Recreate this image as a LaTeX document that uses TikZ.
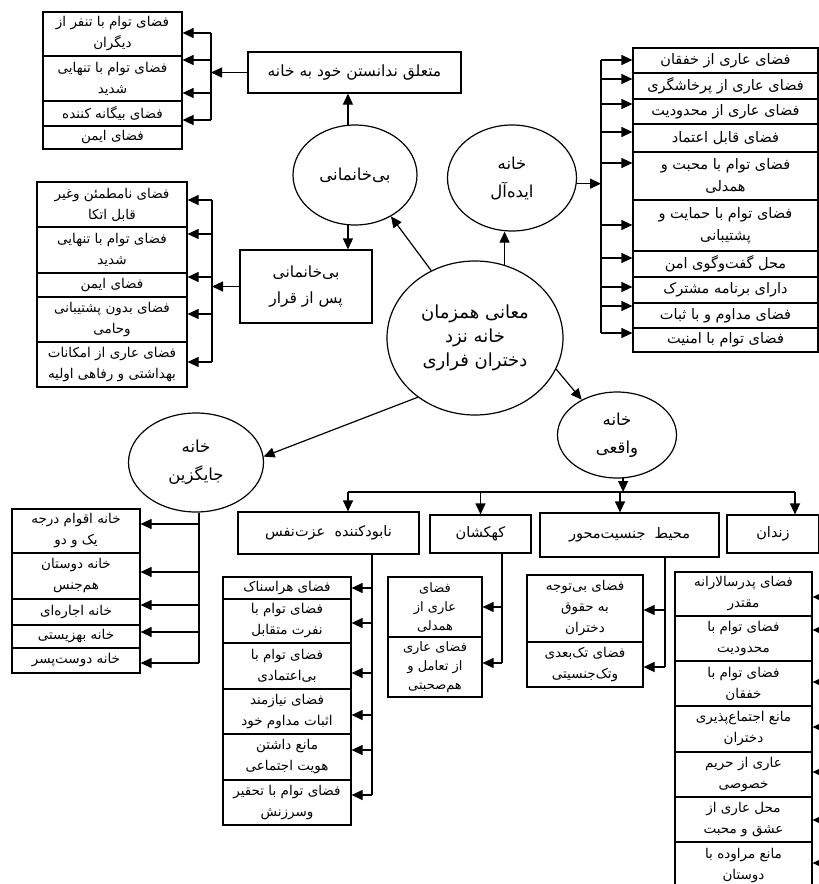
\documentclass[tikz,border=0pt]{standalone}
\usepackage{fontspec}
\usetikzlibrary{shapes.geometric,arrows.meta}
\newfontfamily\farsi[Script=Arabic]{DejaVu Sans}
\TeXXeTstate=1
\newcommand\fa[1]{\beginR #1\endR}
\newcommand\zw{^^^^200c}
\begin{document}
\begin{tikzpicture}[x=1pt,y=-1pt,line width=1.2pt,
  >={Triangle[length=11pt,width=10pt]},
  cell/.style={draw,rectangle,inner sep=1pt,align=center,font=\farsi\fontsize{13.5}{21}\selectfont},
  rcell/.style={draw,rectangle,inner sep=1pt,align=center,font=\farsi\fontsize{14.5}{22}\selectfont},
  box/.style={draw,rectangle,inner sep=2pt,align=center,font=\farsi\fontsize{14.5}{24}\selectfont},
  circ/.style={ellipse,draw,inner sep=0pt,align=center,font=\farsi\fontsize{16.5}{28}\selectfont}]
\fill[white] (0,0) rectangle (819,884);
\useasboundingbox (0,0) rectangle (819,884);

% ---------- circles ----------
\node[circ,minimum width=176,minimum height=154,font=\farsi\fontsize{18}{24}\selectfont] (cent) at (475,338)
  {\fa{معانی همزمان}\\\fa{خانه نزد}\\\fa{دختران فراری}};
\node[circ,minimum width=124,minimum height=100] (bikh) at (355,175) {\fa{بی\zw خانمانی}};
\node[circ,minimum width=129,minimum height=106] (ideal) at (512,178) {\fa{خانه}\\\fa{ایده\zw آل}};
\node[circ,minimum width=135,minimum height=99] (jay) at (196,462.5) {\fa{خانه}\\\fa{جایگزین}};
\node[circ,minimum width=119,minimum height=86] (waq) at (617,435) {\fa{خانه}\\\fa{واقعی}};

% ---------- boxes ----------
\node[box,minimum width=213,minimum height=41,font=\farsi\fontsize{15.5}{24}\selectfont] (mot) at (354.5,72.5) {\fa{متعلق ندانستن خود به خانه}};
\node[box,minimum width=132,minimum height=73,font=\farsi\fontsize{15.5}{26}\selectfont] (pas) at (306,286.5) {\fa{بی\zw خانمانی}\\\fa{پس از قرار}};
\node[box,minimum width=181,minimum height=42] (nab) at (328.5,533) {\fa{نابودکننده\ \ عزت\zw نفس}};
\node[box,minimum width=101,minimum height=38] (kah) at (480.5,534) {\fa{کهکشان}};
\node[box,minimum width=179,minimum height=44] (moh) at (629.5,535) {\fa{محیط\ \ جنسیت\zw محور}};
\node[box,minimum width=92,minimum height=38] (zen) at (773,534) {\fa{زندان}};

% ---------- top-left list ----------
\node[cell,minimum width=139,minimum height=44] (tl1) at (112.5,34) {\fa{فضای توام با تنفر از}\\\fa{دیگران}};
\node[cell,minimum width=139,minimum height=45] (tl2) at (112.5,78.5) {\fa{فضای توام با تنهایی}\\\fa{شدید}};
\node[cell,minimum width=139,minimum height=25] (tl3) at (112.5,113.5) {\fa{فضای بیگانه کننده}};
\node[cell,minimum width=139,minimum height=23] (tl4) at (112.5,137.5) {\fa{فضای ایمن}};

% ---------- middle-left list ----------
\node[cell,minimum width=150,minimum height=45] (ml1) at (112,204.5) {\fa{فضای نامطمئن وغیر}\\\fa{قابل اتکا}};
\node[cell,minimum width=150,minimum height=46] (ml2) at (112,250) {\fa{فضای توام با تنهایی}\\\fa{شدید}};
\node[cell,minimum width=150,minimum height=24] (ml3) at (112,285) {\fa{فضای ایمن}};
\node[cell,minimum width=150,minimum height=45] (ml4) at (112,319.5) {\fa{فضای بدون پشتیبانی}\\\fa{وحامی}};
\node[cell,minimum width=150,minimum height=45] (ml5) at (112,364.5) {\fa{فضای عاری از امکانات}\\\fa{بهداشتی و رفاهی اولیه}};

% ---------- right list ----------
\node[rcell,minimum width=185,minimum height=25] (r1) at (725.5,60.5) {\fa{فضای عاری از خفقان}};
\node[rcell,minimum width=185,minimum height=26] (r2) at (725.5,86) {\fa{فضای عاری از پرخاشگری}};
\node[rcell,minimum width=185,minimum height=25] (r3) at (725.5,111.5) {\fa{فضای عاری از محدودیت}};
\node[rcell,minimum width=185,minimum height=28] (r4) at (725.5,138) {\fa{فضای قابل اعتماد}};
\node[rcell,minimum width=185,minimum height=48] (r5) at (725.5,176) {\fa{فضای توام با محبت و}\\\fa{همدلی}};
\node[rcell,minimum width=185,minimum height=51] (r6) at (725.5,225.5) {\fa{فضای توام با حمایت و}\\\fa{پشتیبانی}};
\node[rcell,minimum width=185,minimum height=26] (r7) at (725.5,264) {\fa{محل گفت\zw وگوی امن}};
\node[rcell,minimum width=185,minimum height=26] (r8) at (725.5,290) {\fa{دارای برنامه مشترک}};
\node[rcell,minimum width=185,minimum height=25] (r9) at (725.5,315.5) {\fa{فضای مداوم و با ثبات}};
\node[rcell,minimum width=185,minimum height=24] (r10) at (725.5,340) {\fa{فضای توام با امنیت}};

% ---------- bottom-left list (jaygozin) ----------
\node[cell,minimum width=128,minimum height=44] (j1) at (76,531) {\fa{خانه اقوام درجه}\\\fa{یک و دو}};
\node[cell,minimum width=128,minimum height=46] (j2) at (76,576) {\fa{خانه دوستان}\\\fa{هم\zw جنس}};
\node[cell,minimum width=128,minimum height=26] (j3) at (76,612) {\fa{خانه اجاره\zw ای}};
\node[cell,minimum width=128,minimum height=23] (j4) at (76,636.5) {\fa{خانه بهزیستی}};
\node[cell,minimum width=128,minimum height=25] (j5) at (76,660.5) {\fa{خانه دوست\zw پسر}};

% ---------- nabodkonande list ----------
\node[cell,minimum width=128,minimum height=22] (n1) at (287,588) {\fa{فضای هراسناک}};
\node[cell,minimum width=128,minimum height=44] (n2) at (287,621) {\fa{فضای توام با}\\\fa{نفرت متقابل}};
\node[cell,minimum width=128,minimum height=46] (n3) at (287,666) {\fa{فضای توام با}\\\fa{بی\zw اعتمادی}};
\node[cell,minimum width=128,minimum height=45] (n4) at (287,711.5) {\fa{فضای نیازمند}\\\fa{اثبات مداوم خود}};
\node[cell,minimum width=128,minimum height=46] (n5) at (287,757) {\fa{مانع داشتن}\\\fa{هویت اجتماعی}};
\node[cell,minimum width=128,minimum height=45] (n6) at (287,802.5) {\fa{فضای توام با تحقیر}\\\fa{وسرزنش}};

% ---------- kahkashan list ----------
\node[cell,minimum width=94,minimum height=60,font=\farsi\fontsize{13}{19}\selectfont] (k1) at (435,607) {\fa{فضای}\\\fa{عاری از}\\\fa{همدلی}};
\node[cell,minimum width=94,minimum height=60,font=\farsi\fontsize{13}{19}\selectfont] (k2) at (435,667) {\fa{فضای عاری}\\\fa{از تعامل و}\\\fa{هم\zw صحبتی}};

% ---------- mohit list ----------
\node[cell,minimum width=116,minimum height=67] (m1) at (585,608.5) {\fa{فضای بی\zw توجه}\\\fa{به حقوق}\\\fa{دختران}};
\node[cell,minimum width=116,minimum height=45] (m2) at (585,664.5) {\fa{فضای تک\zw بعدی}\\\fa{وتک\zw جنسیتی}};

% ---------- zendan list ----------
\node[cell,minimum width=137,minimum height=44] (z1) at (743.5,594) {\fa{فضای پدرسالارانه}\\\fa{مقتدر}};
\node[cell,minimum width=137,minimum height=45] (z2) at (743.5,638.5) {\fa{فضای توام با}\\\fa{محدودیت}};
\node[cell,minimum width=137,minimum height=45] (z3) at (743.5,683.5) {\fa{فضای توام با}\\\fa{خفقان}};
\node[cell,minimum width=137,minimum height=46] (z4) at (743.5,729) {\fa{مانع اجتماع\zw پذیری}\\\fa{دختران}};
\node[cell,minimum width=137,minimum height=45] (z5) at (743.5,774.5) {\fa{عاری از حریم}\\\fa{خصوصی}};
\node[cell,minimum width=137,minimum height=45] (z6) at (743.5,819.5) {\fa{محل عاری از}\\\fa{عشق و محبت}};
\node[cell,minimum width=137,minimum height=48] (z7) at (743.5,866) {\fa{مانع مراوده با}\\\fa{دوستان}};

% ---------- main connectors ----------
\draw[->] (cent.123) -- (bikh.-49);
\draw[->] (cent.68) -- (cent.68 |- ideal.south);
\draw[->] (cent.226) -- (jay.5);
\draw[->] (cent.-21) -- (waq.135);
\draw[->] (bikh.98) -- (bikh.98 |- mot.south);
\draw[->] (bikh.-98) -- (bikh.-98 |- pas.north);

% top-left bracket
\foreach \i/\y in {1/33,2/60,3/93,4/120}{
  \coordinate (tlb\i) at (211,\y);
  \draw[->] (tlb\i) -- (tlb\i -| tl\i.east);}
\draw (tlb1) -- (tlb4);
\draw[->] (mot.west) -- (mot.west -| tlb1);

% middle-left bracket
\foreach \i/\y in {1/200,2/234,3/277,4/314,5/362}{
  \coordinate (mlb\i) at (212,\y);
  \draw[->] (mlb\i) -- (mlb\i -| ml\i.east);}
\draw (mlb1) -- (mlb5);
\draw[->] (pas.west) -- (pas.west -| mlb1);

% right bracket
\foreach \i/\y in {1/60,2/79,3/104,4/132,5/163,6/225,7/258,8/287,9/306,10/333}{
  \coordinate (rb\i) at (601,\y);
  \draw[->] (rb\i) -- (rb\i -| r\i.west);}
\draw (rb1) -- (rb10);
\draw[->] (ideal.-5) -- (ideal.-5 -| rb1);

% jaygozin bracket
\foreach \i/\y in {1/524,2/572,3/605,4/632,5/663}{
  \coordinate (jb\i) at (199,\y);
  \draw[->] (jb\i) -- (jb\i -| j\i.east);}
\draw (jay.south -| jb1) -- (jb5);

% bus under waqei
\coordinate (bus1) at (348,492);
\coordinate (bus2) at (795,492);
\coordinate (bus3) at (620,492);
\draw (bus1) -- (bus2);
\draw[->] (waq.-82) -- (waq.-82 |- bus1);
\draw[->] (bus1) -- (bus1 |- nab.north);
\draw[->] (kah.north |- bus1) -- (kah.north);
\draw[->] (bus3) -- (bus3 |- moh.north);
\draw[->] (bus2) -- (bus2 |- zen.north);

% nabodkonande
\foreach \i/\y in {1/588,2/623,3/673,4/715,5/750,6/795}{
  \coordinate (nb\i) at (372,\y);
  \draw[->] (nb\i) -- (nb\i -| n\i.east);}
\draw (nab.south -| nb1) -- (nb6);

% kahkashan
\foreach \i/\y in {1/607,2/663}{
  \coordinate (kb\i) at (502,\y);
  \draw[->] (kb\i) -- (kb\i -| k\i.east);}
\draw (kah.south -| kb1) -- (kb2);

% mohit
\foreach \i/\y in {1/610,2/667}{
  \coordinate (mb\i) at (665,\y);
  \draw[->] (mb\i) -- (mb\i -| m\i.east);}
\draw (moh.south -| mb1) -- (mb2);

% zendan
\foreach \i/\y in {1/597,2/630,3/682,4/727,5/772,6/820,7/863}{
  \coordinate (zb\i) at (826,\y);
  \draw[->] (zb\i) -- (zb\i -| z\i.east);}
\draw (zen.south -| zb1) -- (zb7);
\end{tikzpicture}
\end{document}
